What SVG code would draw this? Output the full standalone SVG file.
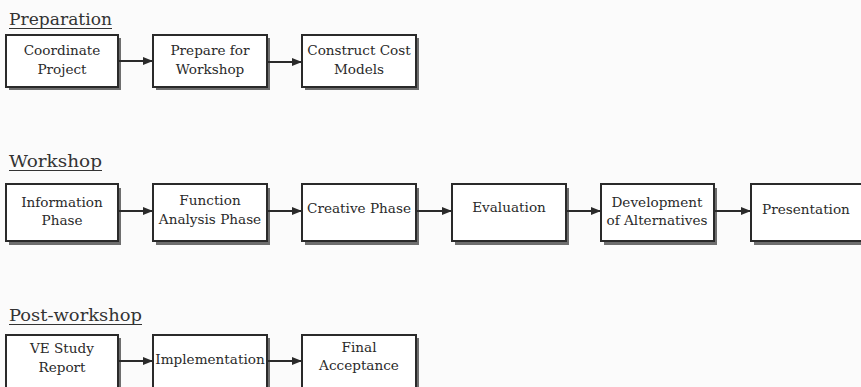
<svg xmlns="http://www.w3.org/2000/svg" width="861" height="387" viewBox="0 0 861 387">
<style>
.bg{fill:#fbfbfb}
.box{fill:#fff;stroke:#2a2a2a;stroke-width:2}
.sh{fill:#6e6e6e}
.t{font-family:"DejaVu Serif","Liberation Serif",serif;font-size:13.6px;fill:#2a2a2a;text-anchor:middle}
.h{font-family:"DejaVu Serif","Liberation Serif",serif;font-size:17px;fill:#333}
.ul{stroke:#333;stroke-width:1.2}
.c{stroke:#2a2a2a;stroke-width:2;fill:none;marker-end:url(#ah)}
</style>
<defs>
<marker id="ah" markerWidth="10" markerHeight="8" refX="9" refY="4" orient="auto" markerUnits="userSpaceOnUse">
<path d="M0,0 L10,4 L0,8 Z" fill="#2a2a2a"/>
</marker>
</defs>
<rect class="bg" x="0" y="0" width="861" height="387"/>

<g id="titles">
<text class="h" x="9" y="25" textLength="103" lengthAdjust="spacingAndGlyphs">Preparation</text>
<line class="ul" x1="9" y1="28.5" x2="112" y2="28.5"/>
<text class="h" x="9" y="167" textLength="93" lengthAdjust="spacingAndGlyphs">Workshop</text>
<line class="ul" x1="9" y1="170.5" x2="102" y2="170.5"/>
<text class="h" x="9" y="321" textLength="133" lengthAdjust="spacingAndGlyphs">Post-workshop</text>
<line class="ul" x1="9" y1="324.5" x2="142" y2="324.5"/>
</g>

<g id="p1"><rect class="sh" x="9" y="38" width="112" height="52"/><rect class="box" x="6" y="35" width="112" height="52"/><text class="t" x="62" y="55">Coordinate</text><text class="t" x="62" y="74">Project</text></g>
<g id="p2"><rect class="sh" x="156" y="38" width="114" height="52"/><rect class="box" x="153" y="35" width="114" height="52"/><text class="t" x="210" y="55">Prepare for</text><text class="t" x="210" y="74">Workshop</text></g>
<g id="p3"><rect class="sh" x="305" y="38" width="114" height="52"/><rect class="box" x="302" y="35" width="114" height="52"/><text class="t" x="359" y="55">Construct Cost</text><text class="t" x="359" y="74">Models</text></g>

<g id="w1"><rect class="sh" x="9" y="188" width="112" height="57"/><rect class="box" x="6" y="184" width="112" height="57"/><text class="t" x="62" y="207">Information</text><text class="t" x="62" y="225">Phase</text></g>
<g id="w2"><rect class="sh" x="156" y="188" width="114" height="57"/><rect class="box" x="153" y="184" width="114" height="57"/><text class="t" x="210" y="205">Function</text><text class="t" x="210" y="224">Analysis Phase</text></g>
<g id="w3"><rect class="sh" x="305" y="188" width="114" height="57"/><rect class="box" x="302" y="184" width="114" height="57"/><text class="t" x="359" y="213">Creative Phase</text></g>
<g id="w4"><rect class="sh" x="455" y="188" width="114" height="57"/><rect class="box" x="452" y="184" width="114" height="57"/><text class="t" x="509" y="212">Evaluation</text></g>
<g id="w5"><rect class="sh" x="604" y="188" width="113" height="57"/><rect class="box" x="601" y="184" width="113" height="57"/><text class="t" x="657" y="207">Development</text><text class="t" x="657" y="225">of Alternatives</text></g>
<g id="w6"><rect class="sh" x="754" y="188" width="114" height="57"/><rect class="box" x="751" y="184" width="114" height="57"/><text class="t" x="806" y="214">Presentation</text></g>

<g id="q1"><rect class="sh" x="9" y="338" width="112" height="57"/><rect class="box" x="6" y="335" width="112" height="57"/><text class="t" x="62" y="353">VE Study</text><text class="t" x="62" y="372">Report</text></g>
<g id="q2"><rect class="sh" x="156" y="338" width="114" height="57"/><rect class="box" x="153" y="335" width="114" height="57"/><text class="t" x="210" y="364">Implementation</text></g>
<g id="q3"><rect class="sh" x="305" y="338" width="114" height="57"/><rect class="box" x="302" y="335" width="114" height="57"/><text class="t" x="359" y="352">Final</text><text class="t" x="359" y="370">Acceptance</text></g>

<g id="connectors">
<line class="c" x1="119" y1="61" x2="152" y2="61"/>
<line class="c" x1="268" y1="62" x2="301" y2="62"/>
<line class="c" x1="119" y1="211" x2="152" y2="211"/>
<line class="c" x1="268" y1="211" x2="301" y2="211"/>
<line class="c" x1="417" y1="211" x2="451" y2="211"/>
<line class="c" x1="567" y1="211" x2="600" y2="211"/>
<line class="c" x1="715" y1="211" x2="750" y2="211"/>
<line class="c" x1="119" y1="361" x2="152" y2="361"/>
<line class="c" x1="268" y1="361" x2="301" y2="361"/>
</g>
</svg>
